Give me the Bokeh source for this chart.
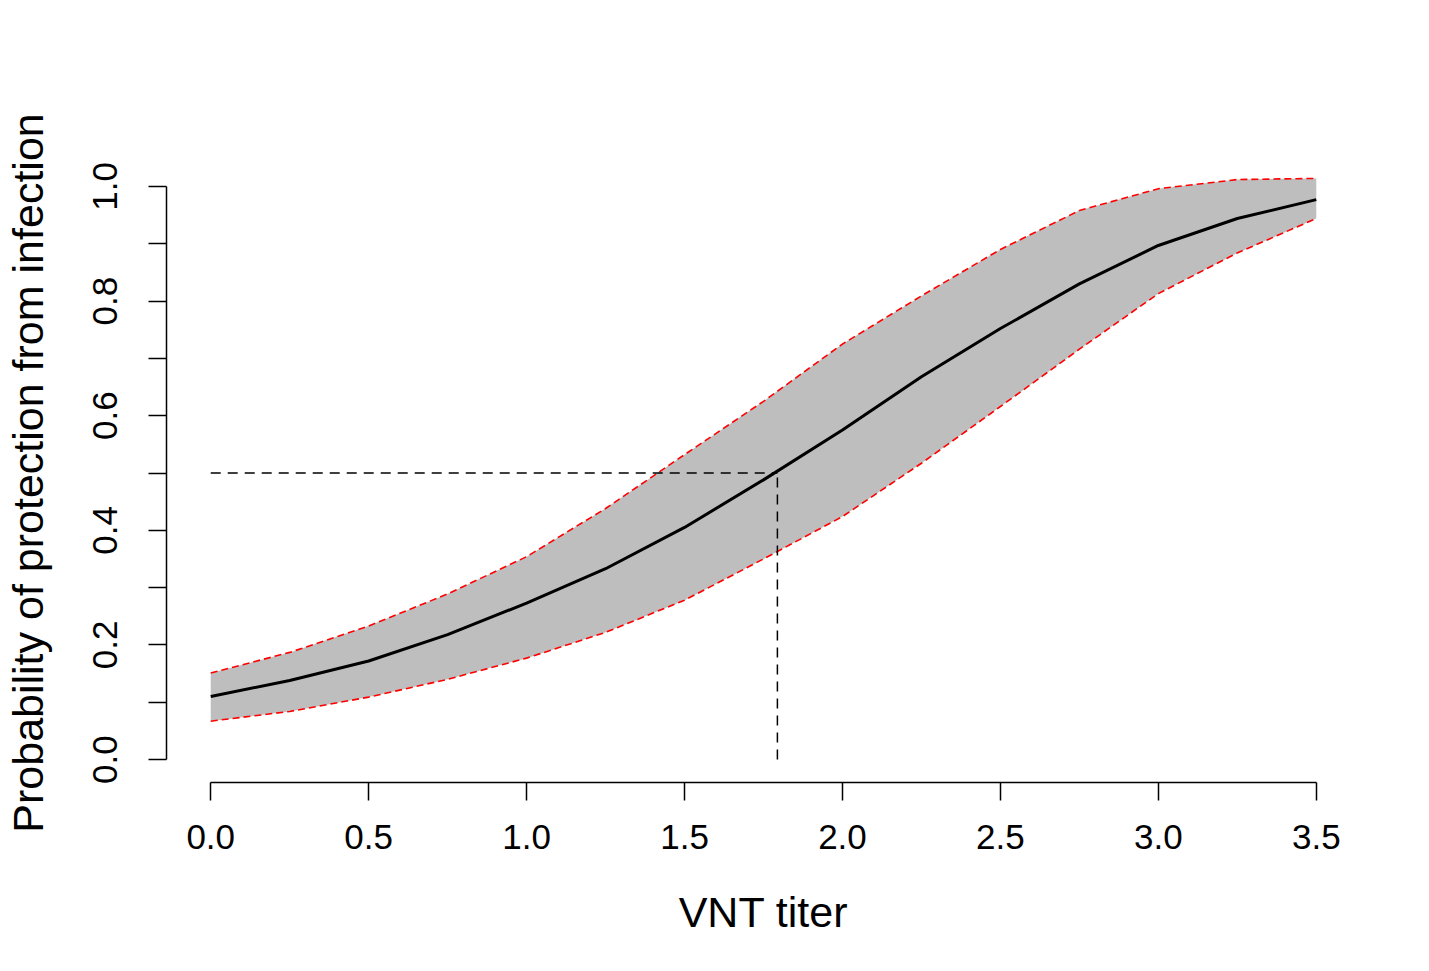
from bokeh.plotting import figure
from bokeh.embed import file_html
from bokeh.resources import INLINE
from bokeh.models import FixedTicker, NumeralTickFormatter

# ---- data ----
titer = [0.0, 0.25, 0.5, 0.75, 1.0, 1.25, 1.5, 1.75, 2.0, 2.25, 2.5, 2.75, 3.0, 3.25, 3.5]
prob_mean = [0.110, 0.138, 0.172, 0.218, 0.273, 0.333, 0.405, 0.488, 0.575, 0.668, 0.752, 0.830, 0.897, 0.944, 0.977]
prob_upper = [0.151, 0.187, 0.233, 0.289, 0.354, 0.438, 0.532, 0.625, 0.725, 0.809, 0.890, 0.958, 0.996, 1.012, 1.014]
prob_lower = [0.067, 0.084, 0.109, 0.140, 0.177, 0.222, 0.278, 0.350, 0.424, 0.517, 0.616, 0.716, 0.813, 0.884, 0.944]

ref_titer = 1.794
ref_prob = 0.5

x_ticks = [0.0, 0.5, 1.0, 1.5, 2.0, 2.5, 3.0, 3.5]
y_ticks = [0.0, 0.2, 0.4, 0.6, 0.8, 1.0]
y_minor = [0.1, 0.3, 0.5, 0.7, 0.9]

FONT = "Liberation Sans"

p = figure(
    x_range=(-0.14, 3.64), y_range=(-0.04, 1.04),
    frame_width=1194, frame_height=619,
    min_border_left=166, min_border_top=163, min_border_right=50, min_border_bottom=175,
    output_backend="svg", toolbar_location=None,
    background_fill_color="white", border_fill_color="white",
)
p.outline_line_color = None
p.grid.visible = False

# confidence band
p.varea(x=titer, y1=prob_lower, y2=prob_upper, fill_color="#BEBEBE")
p.line(titer, prob_upper, line_color="red", line_width=1.6, line_dash="7 4")
p.line(titer, prob_lower, line_color="red", line_width=1.6, line_dash="7 4")
p.line(titer, prob_mean, line_color="black", line_width=3)

# reference lines
p.line([0.0, ref_titer], [ref_prob, ref_prob], line_color="black", line_width=1.5, line_dash="10 7")
p.line([ref_titer, ref_titer], [0.0, ref_prob], line_color="black", line_width=1.5, line_dash="10 7")

# x axis
xa = p.xaxis[0]
xa.ticker = FixedTicker(ticks=x_ticks)
xa.formatter = NumeralTickFormatter(format="0.0")
xa.bounds = (0.0, 3.5)
xa.axis_label = "VNT titer"

# y axis
ya = p.yaxis[0]
ya.ticker = FixedTicker(ticks=y_ticks, minor_ticks=y_minor)
ya.formatter = NumeralTickFormatter(format="0.0")
ya.bounds = (0.0, 1.0)
ya.axis_label = "Probability of protection from infection"
ya.major_label_orientation = "vertical"

for ax in (xa, ya):
    ax.axis_line_color = "black"
    ax.axis_line_width = 1.5
    ax.major_tick_line_color = "black"
    ax.major_tick_line_width = 1.5
    ax.major_tick_in = 0
    ax.major_tick_out = 18
    ax.major_label_text_font = FONT
    ax.major_label_text_font_size = "35px"
    ax.major_label_text_color = "black"
    ax.axis_label_text_font = FONT
    ax.axis_label_text_font_size = "43px"
    ax.axis_label_text_font_style = "normal"
    ax.axis_label_text_color = "black"

ya.minor_tick_line_color = "black"
ya.minor_tick_line_width = 1.5
ya.minor_tick_in = 0
ya.minor_tick_out = 18
xa.minor_tick_line_color = None

xa.major_label_standoff = 24
xa.axis_label_standoff = 36
ya.major_label_standoff = 31
ya.axis_label_standoff = 39

open("out.html", "w").write(file_html(p, INLINE))
